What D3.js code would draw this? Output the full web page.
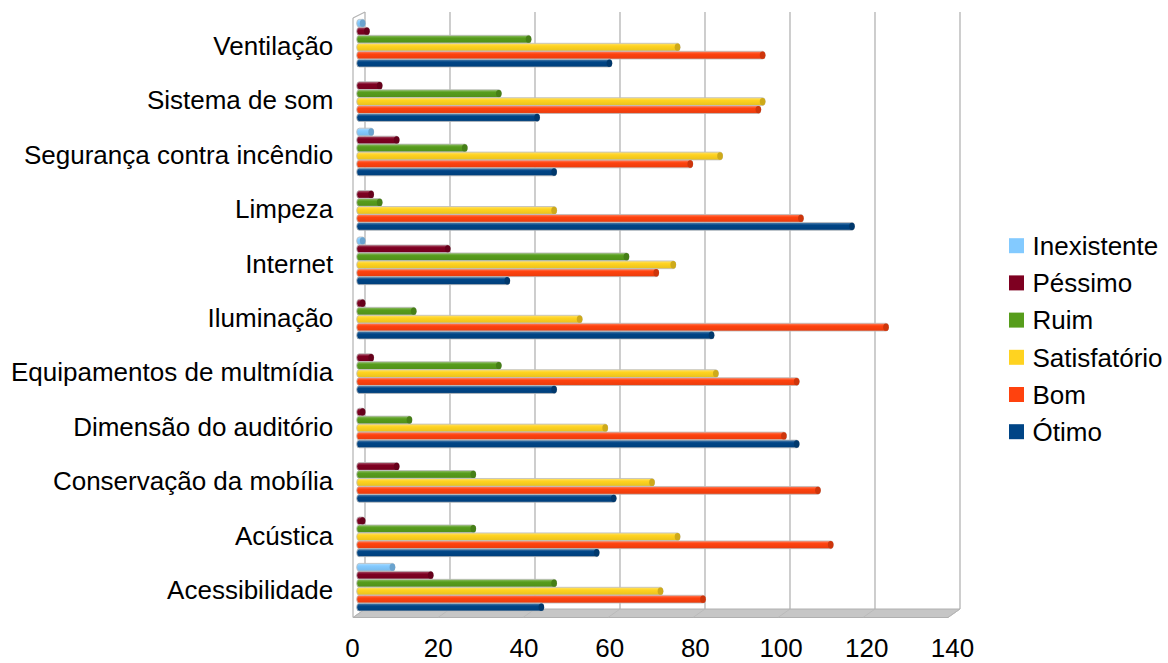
<!DOCTYPE html>
<html>
<head>
<meta charset="utf-8">
<script src="https://cdn.jsdelivr.net/npm/d3@7"></script>
<style>
  html, body { margin: 0; padding: 0; background: #ffffff; }
  svg { display: block; }
  text { font-family: "Liberation Sans", Arial, sans-serif; fill: #000; }
</style>
</head>
<body>
<svg id="chart" width="1168" height="663"></svg>
<script>
const categories = ["Ventilação","Sistema de som","Segurança contra incêndio","Limpeza","Internet","Iluminação","Equipamentos de multmídia","Dimensão do auditório","Conservação da mobília","Acústica","Acessibilidade"];
const seriesNames = ["Inexistente","Péssimo","Ruim","Satisfatório","Bom","Ótimo"];
const inexistente  = [2, 0, 4, 0, 2, 0, 0, 0, 0, 0, 9];
const pessimo      = [3, 6, 10, 4, 22, 2, 4, 2, 10, 2, 18];
const ruim         = [41, 34, 26, 6, 64, 14, 34, 13, 28, 28, 47];
const satisfatorio = [76, 96, 86, 47, 75, 53, 85, 59, 70, 76, 72];
const bom          = [96, 95, 79, 105, 71, 125, 104, 101, 109, 112, 82];
const otimo        = [60, 43, 47, 117, 36, 84, 47, 104, 61, 57, 44];
const xTicks = [0, 20, 40, 60, 80, 100, 120, 140];
const seriesColors = ["#83caff", "#7e0021", "#579d1c", "#ffd320", "#ff420e", "#004586"];

const seriesValues = [inexistente, pessimo, ruim, satisfatorio, bom, otimo];

const svg = d3.select("#chart");
const defs = svg.append("defs");

// scales: back wall, bar plane, front (labels)
const xBack = d3.scaleLinear().domain([0, 140]).range([365, 960]);
const xBar = d3.scaleLinear().domain([0, 140]).range([356.7, 952.4]);
const xFront = d3.scaleLinear().domain([0, 140]).range([352.5, 952.5]);
const xFloorFront = d3.scaleLinear().domain([0, 140]).range([353, 948]);

const y = d3.scaleBand().domain(categories).range([16, 614.4]).paddingInner(0.12).paddingOuter(0.06);
const ys = d3.scaleBand().domain(seriesNames).range([0, y.bandwidth()]).paddingInner(0);

const wallTop = 12, floorBack = 609, floorFront = 617.5;

// gradients
seriesColors.forEach((c, i) => {
  const g = defs.append("linearGradient").attr("id", "g" + i)
    .attr("x1", 0).attr("y1", 0).attr("x2", 0).attr("y2", 1);
  const base = d3.color(c);
  g.append("stop").attr("offset", "0%").attr("stop-color", d3.interpolateRgb(c, "#ffffff")(0.35));
  g.append("stop").attr("offset", "35%").attr("stop-color", base.formatHex());
  g.append("stop").attr("offset", "100%").attr("stop-color", base.darker(0.25).formatHex());
});

// floor
const floor = svg.append("g");
floor.append("path")
  .attr("d", `M${xFloorFront(0)},${floorFront} L${xBack(0)},${floorBack} L${xBack(140)},${floorBack} L${xFloorFront(140)},${floorFront} Z`)
  .attr("fill", "#c6c6c6").attr("stroke", "#b0b0b0").attr("stroke-width", 1);
floor.selectAll("line.fl").data(xTicks).join("line")
  .attr("x1", d => xBack(d)).attr("y1", floorBack)
  .attr("x2", d => xFloorFront(d)).attr("y2", floorFront)
  .attr("stroke", "#b8b8b8").attr("stroke-width", 0.8);

// back wall gridlines
svg.append("g").selectAll("line").data(xTicks).join("line")
  .attr("x1", d => xBack(d)).attr("x2", d => xBack(d))
  .attr("y1", wallTop).attr("y2", floorBack)
  .attr("stroke", "#b3b3b3").attr("stroke-width", 1.3);

// left wall edges
svg.append("line").attr("x1", 353).attr("x2", 353).attr("y1", 18).attr("y2", floorFront)
  .attr("stroke", "#b3b3b3").attr("stroke-width", 1.2);
svg.append("line").attr("x1", 353).attr("x2", xBack(0)).attr("y1", 18).attr("y2", wallTop)
  .attr("stroke", "#b3b3b3").attr("stroke-width", 1.2);

// bars
const groups = svg.append("g").selectAll("g").data(categories).join("g")
  .attr("transform", d => `translate(0,${y(d)})`);

groups.each(function(cat, ci) {
  const g = d3.select(this);
  const rows = seriesNames.map((s, si) => ({ s, si, v: seriesValues[si][ci] })).filter(d => d.v > 0);
  const h = ys.bandwidth() - 0.2;
  rows.forEach(d => {
    const x0 = xBar(0), x1 = xBar(d.v);
    const yy = ys(d.s) + 0.1;
    g.append("rect")
      .attr("x", x0).attr("y", yy)
      .attr("width", Math.max(0, x1 - x0)).attr("height", h)
      .attr("rx", 2.5).attr("ry", h / 2)
      .attr("fill", `url(#g${d.si})`)
      .attr("stroke", "#bdbdbd").attr("stroke-width", 0.8);
    g.append("ellipse")
      .attr("cx", x1 - 2.6).attr("cy", yy + h / 2)
      .attr("rx", 2.8).attr("ry", h / 2 - 0.2)
      .attr("fill", d3.color(seriesColors[d.si]).darker(0.6).formatHex());
  });
});

// category labels
svg.append("g").selectAll("text").data(categories).join("text")
  .attr("x", 333.3)
  .attr("y", d => y(d) + y.bandwidth() / 2 + 11.7)
  .attr("text-anchor", "end")
  .attr("font-size", 26)
  .text(d => d);

// x-axis labels
svg.append("g").selectAll("text").data(xTicks).join("text")
  .attr("x", d => xFront(d))
  .attr("y", 657)
  .attr("text-anchor", "middle")
  .attr("font-size", 26)
  .text(d => d);

// legend
const legend = svg.append("g").selectAll("g").data(seriesNames).join("g")
  .attr("transform", (d, i) => `translate(1009,${245.7 + i * 37.2})`);
legend.append("rect").attr("x", 0).attr("y", -7.5).attr("width", 15).attr("height", 15)
  .attr("fill", (d, i) => seriesColors[i]);
legend.append("text").attr("x", 23.5).attr("y", 9.3).attr("font-size", 26).text(d => d);
</script>
</body>
</html>
